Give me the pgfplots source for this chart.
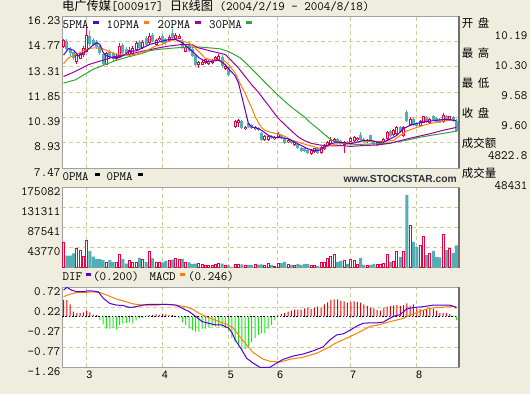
\documentclass[border=0pt]{standalone}
\usepackage{fontspec}
\usepackage{pgfplots}
\usepackage{pgfplotstable}
\pgfplotsset{compat=1.18}
\newfontfamily\cjk{Noto Sans CJK SC}
\newfontfamily\arial{Liberation Sans}
\definecolor{bgc}{RGB}{239,237,222}
\definecolor{gridc}{RGB}{204,204,153}
\definecolor{bordl}{RGB}{160,160,160}
\definecolor{bordd}{RGB}{110,110,110}
\definecolor{candred}{RGB}{232,0,64}
\definecolor{candteal}{RGB}{84,174,182}
\definecolor{ma5}{RGB}{85,0,215}
\definecolor{ma10}{RGB}{255,128,0}
\definecolor{ma20}{RGB}{160,0,160}
\definecolor{ma30}{RGB}{50,165,50}
\definecolor{hred}{RGB}{235,0,0}
\definecolor{hgreen}{RGB}{20,235,20}
\newcommand\mono{\ttfamily\fontsize{12.7}{14}\selectfont}
\newcommand\cjkt{\cjk\fontsize{12.3}{14}\selectfont}
\newcommand\cjkr{\cjk\fontsize{11.5}{14}\selectfont}

\pgfplotstableread{
i o h l c
0 14.45 14.95 14.40 14.85
4 13.60 14.05 13.50 14.00
5 13.80 14.20 13.75 14.10
6 14.00 14.50 13.90 14.40
7 14.20 15.55 14.15 15.15
13 13.45 14.20 13.40 14.10
16 13.75 14.05 13.70 13.95
17 13.90 14.70 13.85 14.55
20 14.00 14.45 13.95 14.30
21 14.05 14.50 14.00 14.40
22 14.30 14.80 14.25 14.70
24 14.40 14.85 14.35 14.75
26 14.70 15.30 14.65 15.10
28 14.60 14.95 14.55 14.85
29 14.85 15.10 14.80 15.00
32 14.80 15.15 14.75 15.05
34 14.95 15.25 14.90 15.15
35 14.95 15.20 14.90 15.10
37 14.20 14.55 14.15 14.45
41 13.40 13.65 13.25 13.60
42 13.45 13.70 13.40 13.60
43 13.55 13.80 13.50 13.75
44 13.50 13.70 13.45 13.65
45 13.55 13.75 13.50 13.70
46 13.70 13.95 13.65 13.90
47 13.70 14.05 13.65 13.95
49 13.20 13.40 13.15 13.35
52 9.85 10.25 9.80 10.20
53 10.10 10.30 9.85 10.25
55 9.70 9.90 9.65 9.85
58 9.70 9.90 9.65 9.85
61 9.07 9.35 9.02 9.30
62 9.10 9.35 9.05 9.30
64 9.12 9.32 9.08 9.27
65 9.25 9.55 9.20 9.45
68 8.95 9.15 8.90 9.10
70 8.80 9.00 8.75 8.95
75 8.30 8.55 8.25 8.50
76 8.40 8.65 8.35 8.60
78 8.35 8.75 8.30 8.70
79 8.55 8.85 8.50 8.80
80 8.75 9.05 8.70 9.00
81 8.85 9.25 8.80 9.10
82 9.00 9.20 8.95 9.15
85 8.80 9.05 8.35 9.00
87 8.95 9.25 8.90 9.20
88 9.05 9.30 9.00 9.25
89 9.08 9.28 9.03 9.22
92 8.95 9.15 8.90 9.10
95 8.80 9.00 8.75 8.95
96 8.85 9.05 8.80 9.00
97 8.95 9.20 8.90 9.15
98 9.15 9.60 9.10 9.55
100 9.35 9.70 9.30 9.65
101 9.45 9.90 9.40 9.85
103 9.30 9.90 9.25 9.85
105 9.95 10.40 9.90 10.33
108 9.90 10.25 9.85 10.20
109 10.10 10.50 10.05 10.45
111 10.10 10.35 10.05 10.30
115 10.15 10.65 10.10 10.55
117 10.25 10.50 10.20 10.45
}\up

\pgfplotstableread{
i o h l c
1 14.80 14.90 14.20 14.35
2 14.35 14.45 13.95 14.10
3 14.15 14.20 13.70 13.85
8 15.10 15.40 14.55 14.65
9 14.85 15.00 14.50 14.60
10 14.75 14.85 14.35 14.45
11 14.50 14.60 14.00 14.10
12 14.05 14.10 13.40 13.50
14 14.20 14.30 13.80 13.90
15 14.10 14.15 13.65 13.75
18 14.60 14.70 14.00 14.10
19 14.35 14.45 14.00 14.10
23 14.75 14.85 14.35 14.40
25 15.00 15.10 14.55 14.60
27 15.15 15.25 14.75 14.80
30 15.10 15.20 14.65 14.70
31 14.90 15.00 14.60 14.70
33 15.30 15.50 14.95 15.00
36 14.80 14.90 14.35 14.40
38 14.65 14.75 14.20 14.25
39 14.35 14.45 13.90 13.95
40 14.00 14.05 13.35 13.40
48 13.90 14.00 13.25 13.35
50 13.30 13.35 12.80 12.85
54 10.20 10.25 9.75 9.80
56 10.05 10.10 9.80 9.85
57 9.95 10.00 9.75 9.80
59 9.80 9.85 9.60 9.65
60 9.50 9.55 9.05 9.10
63 9.30 9.35 9.15 9.20
66 9.40 9.45 9.15 9.20
67 9.20 9.25 8.85 8.90
69 9.05 9.10 8.85 8.90
71 8.85 8.90 8.55 8.60
72 8.65 8.70 8.40 8.45
73 8.60 8.65 8.40 8.45
74 8.50 8.55 8.30 8.35
77 8.60 8.65 8.30 8.35
83 9.15 9.20 8.85 8.90
84 9.05 9.10 8.80 8.85
86 9.00 9.05 8.80 8.85
90 9.40 9.55 9.05 9.10
91 9.15 9.20 9.00 9.05
93 9.35 9.40 9.00 9.05
94 9.05 9.10 8.80 8.85
99 9.60 9.65 9.25 9.30
102 9.85 9.90 9.50 9.55
104 10.70 10.85 10.15 10.20
106 10.33 10.40 9.90 9.95
107 10.10 10.15 9.85 9.90
110 10.40 10.45 10.10 10.15
112 10.50 10.55 10.20 10.25
113 10.35 10.40 10.10 10.15
114 10.30 10.35 10.05 10.10
116 10.50 10.55 10.25 10.30
118 10.40 10.45 10.15 10.20
119 10.19 10.30 9.58 9.60
}\down

\pgfplotstableread{
i v
0 55000
4 42000
5 37000
6 24000
7 59500
13 10500
16 12000
17 28900
20 15000
21 10500
22 12000
24 18600
26 35000
28 11000
29 11000
32 14600
34 20000
35 17500
37 11000
41 8500
42 7500
43 4000
44 3600
45 4000
46 5800
47 8500
49 4000
52 5800
53 7000
55 5000
58 5500
61 4400
62 9500
64 3000
65 9500
68 7000
70 5000
75 3600
76 3600
78 11700
79 11700
80 20400
81 23300
82 29000
85 16000
87 18000
88 16000
89 7000
92 5000
95 5800
96 7000
97 9500
98 29000
100 13900
101 35700
103 35700
105 92000
108 48800
109 68500
111 30600
115 73000
117 42300
}\volup

\pgfplotstableread{
i v
1 26000
2 26000
3 31000
8 36000
9 24000
10 18600
11 18600
12 16400
14 16400
15 12000
18 18600
19 8500
23 21000
25 12000
27 20000
30 11000
31 14600
33 17000
36 19000
38 11000
39 7500
40 8500
48 8500
50 4500
54 7000
56 5500
57 5500
59 6500
60 7000
63 5800
66 9500
67 12400
69 5800
71 8000
72 5800
73 8000
74 8000
77 3600
83 12400
84 14600
86 8000
90 21000
91 5800
93 5800
94 8000
99 12400
102 23300
104 158700
106 56000
107 45000
110 27000
112 36500
113 23300
114 21900
116 38000
118 32000
119 48431
}\voldown

\pgfplotstableread{
i v
0 0.41
1 0.40
2 0.30
3 0.12
4 0.08
5 0.08
6 0.10
7 0.14
8 0.10
9 0.04
10 0.03
26 0.03
27 0.04
28 0.05
29 0.04
30 0.06
31 0.05
32 0.04
33 0.03
34 0.01
65 0.02
66 0.06
67 0.08
68 0.12
69 0.14
70 0.17
71 0.17
72 0.17
73 0.20
74 0.22
75 0.18
76 0.22
77 0.24
78 0.22
79 0.30
80 0.35
81 0.41
82 0.42
83 0.42
84 0.39
85 0.37
86 0.34
87 0.36
88 0.37
89 0.36
90 0.34
91 0.30
92 0.26
93 0.22
94 0.20
95 0.16
96 0.14
97 0.22
98 0.24
99 0.26
100 0.27
101 0.28
102 0.26
103 0.28
104 0.32
105 0.26
106 0.30
107 0.20
108 0.18
109 0.16
110 0.18
111 0.22
112 0.18
113 0.14
114 0.08
115 0.09
116 0.08
117 0.06
118 0.02
}\hpos

\pgfplotstableread{
i v
11 -0.09
12 -0.20
13 -0.30
14 -0.30
15 -0.28
16 -0.32
17 -0.22
18 -0.18
19 -0.16
20 -0.15
21 -0.18
22 -0.10
23 -0.05
24 -0.04
25 -0.01
35 -0.05
36 -0.15
37 -0.21
38 -0.30
39 -0.34
40 -0.38
41 -0.38
42 -0.30
43 -0.30
44 -0.28
45 -0.25
46 -0.25
47 -0.25
48 -0.27
49 -0.28
50 -0.35
51 -0.54
52 -0.63
53 -0.71
54 -0.83
55 -0.81
56 -0.75
57 -0.63
58 -0.54
59 -0.46
60 -0.42
61 -0.42
62 -0.30
63 -0.21
64 -0.10
119 -0.09
}\hneg

\pgfplotsset{
  panel/.style={scale only axis, width=397bp, xmin=-0.48, xmax=119.8,
    axis background/.style={fill=white},
    axis line style={draw=bordl, line width=1bp},
    major tick length=0pt, tick style={draw=none},
    grid=major, major grid style={draw=gridc, dash pattern=on 4bp off 3bp, line width=1bp},
    xtick={7,29.9,49.9,64.8,86.9,106.9}, xticklabels={},
    yticklabel style={font=\mono, anchor=north east, inner sep=0pt, xshift=-1.5bp},
    scaled y ticks=false, anchor=south west},
  wick/.style={draw=none, forget plot, error bars/.cd, y dir=plus, y explicit, error mark=none,
    error bar style={draw=#1, line width=1bp, line cap=butt}},
  body/.style={draw=none, forget plot, error bars/.cd, y dir=plus, y explicit, error mark=none,
    error bar style={draw=#1, line width=3bp, line cap=butt}},
  inner/.style={draw=none, forget plot, error bars/.cd, y dir=plus, y explicit, error mark=none,
    error bar style={draw=white, line width=1bp, line cap=butt}},
}

\begin{document}
\begin{tikzpicture}[x=1bp,y=1bp]
\useasboundingbox (0,0) rectangle (530,394);
\fill[bgc] (0,0) rectangle (530,394);

% ---------------- price panel
\begin{axis}[panel, at={(62bp,226bp)}, height=151.5bp, ymin=7.47, ymax=16.23,
  ytick={7.47,8.93,10.39,11.85,13.31,14.77,16.23},
  yticklabels={7.47,8.93,10.39,11.85,13.31,14.77,16.23}]
\addplot[wick=candteal] table[x=i, y=l, y error plus expr=\thisrow{h}-\thisrow{l}] {\down};
\addplot[wick=candred] table[x=i, y=l, y error plus expr=\thisrow{h}-\thisrow{l}] {\up};
\addplot[body=candteal] table[x=i, y=c, y error plus expr=\thisrow{o}-\thisrow{c}] {\down};
\addplot[body=candred] table[x=i, y=o, y error plus expr=\thisrow{c}-\thisrow{o}] {\up};
\addplot[inner] table[x=i, y expr=\thisrow{o}+0.058, y error plus expr=\thisrow{c}-\thisrow{o}-0.116] {\up};
\addplot[ma30, line width=1bp] table {
x y
0 12.38
3.6 12.57
9 13.18
12 13.40
15.7 13.68
19.7 13.90
23.8 14.10
26.2 14.26
29 14.33
31.8 14.38
34.3 14.42
38 14.46
41.3 14.46
44 14.42
47.4 14.36
50 14.20
52 14.00
53.4 13.85
55 13.58
57 13.20
59 12.82
61 12.42
63 12.05
65 11.68
67 11.32
69 11.00
71 10.70
73 10.42
75 10.05
77 9.75
79 9.42
81 9.10
83 8.97
85 8.88
89 8.83
93 8.86
97 8.88
100 8.95
104 9.08
108 9.25
112 9.38
116 9.50
119 9.60
};
\addplot[ma20, line width=1bp] table {
x y
0 12.76
3.6 13.06
7.6 13.45
11.6 13.68
15.7 13.93
19.7 14.03
23.8 14.22
27.8 14.38
31.8 14.52
35.9 14.61
38.9 14.61
40.8 14.42
44.9 14.22
49 14.03
50 13.85
52 13.45
53 13.25
55 12.76
57 12.28
59 11.85
61 11.35
63 10.85
65 10.35
67 9.98
69 9.62
71 9.28
73 9.05
75 8.90
77 8.82
79 8.77
82 8.75
84 8.77
87 8.72
91 8.77
95 8.80
99 8.90
103 9.10
107 9.28
111 9.45
115 9.65
119 9.82
};
\addplot[ma10, line width=1bp] table {
x y
0 13.50
1.5 13.84
3.6 14.03
5.6 14.19
7.6 14.38
9.6 14.42
11.6 14.38
13.7 14.22
15.7 14.07
17.7 14.03
19.7 13.99
21.7 14.03
23.8 14.13
25.8 14.32
27.8 14.52
29.8 14.61
31.8 14.80
33.9 14.90
35.9 14.81
37.9 14.71
39.8 14.42
42.8 13.84
44.9 13.70
46.9 13.70
48.9 13.64
50 13.45
52 12.95
53 12.55
54 12.15
55 11.80
56 11.35
57 10.95
58 10.45
59 10.10
60 9.80
61 9.65
63 9.52
65 9.44
67 9.30
69 9.10
71 8.97
73 8.85
75 8.74
77 8.64
78.5 8.60
80 8.72
82 8.84
85 8.91
89 8.97
93 9.01
97 9.01
100 9.07
102 9.36
104 9.61
106 9.75
109 9.94
111 10.04
114 10.14
117 10.23
119 10.23
};
\addplot[ma5, line width=1bp] table {
x y
0 14.00
1.5 14.38
3 14.28
4.6 13.95
6.6 14.19
8.6 14.52
10 14.71
11 14.62
12 14.15
13 13.95
15 13.84
17 13.86
18.5 14.03
20 14.22
22 14.24
24 14.42
26 14.61
28 14.71
30 14.81
32 14.90
34 14.90
36 14.71
37 14.55
39 14.22
41 13.84
43 13.64
45 13.64
47 13.70
49 13.45
50 13.20
52 12.80
53 12.38
54 11.60
55 10.82
56 10.04
57 9.84
59 9.75
60 9.65
62 9.36
64 9.22
66 9.22
68 9.16
70 8.97
72 8.77
74 8.58
76 8.48
77.5 8.50
79 8.68
81 8.87
83 8.97
85 8.93
87 8.87
89 8.97
91 9.07
93 9.07
95 8.97
97 8.97
99 9.16
101 9.36
103 9.75
105 9.94
107 10.04
109 10.14
111 10.18
113 10.23
115 10.27
117 10.27
119 10.20
};
\end{axis}

% ---------------- volume panel
\begin{axis}[panel, at={(62bp,126.5bp)}, height=80bp, ymin=0, ymax=175082,
  ytick={0,43770,87541,131311,175082},
  yticklabels={,43770,87541,131311,175082}]
\addplot[ybar, bar width=3bp, bar shift=0pt, fill=candteal, draw=none] table[x=i, y=v] {\voldown};
\addplot[ybar, bar width=2bp, bar shift=0pt, fill=white, draw=candred, line width=1bp] table[x=i, y=v] {\volup};
\end{axis}

% ---------------- MACD panel
\begin{axis}[panel, at={(62bp,26.7bp)}, height=80bp, ymin=-1.26, ymax=0.72,
  ytick={-1.26,-0.77,-0.27,0.22,0.72},
  yticklabels={-1.26,-0.77,-0.27,0.22,0.72},
  xticklabels={3,4,5,6,7,8},
  xticklabel style={font=\arial\fontsize{10.8}{12}\selectfont, anchor=north, inner sep=0pt, xshift=2.6bp, yshift=-3.5bp}]
\addplot[ybar, bar width=1bp, bar shift=0pt, fill=hred, draw=none] table[x=i, y=v] {\hpos};
\addplot[ybar, bar width=1bp, bar shift=0pt, fill=hgreen, draw=none] table[x=i, y=v] {\hneg};
\addplot[black, line width=1bp, dash pattern=on 1.6bp off 1.7bp] coordinates {(-0.48,0) (119.8,0)};
\addplot[ma10, line width=1bp] table {
x y
0 0.49
2 0.55
4 0.59
7 0.59
8.5 0.61
11 0.59
13 0.53
16 0.43
19 0.36
21 0.31
24 0.28
28 0.28
31 0.30
34 0.28
37 0.24
39 0.18
41 0.08
43 0.00
46.4 -0.11
49.4 -0.19
51.4 -0.29
53.4 -0.50
55.5 -0.71
57.5 -0.90
60.5 -1.06
62.5 -1.11
65.6 -1.13
68.6 -1.06
72.6 -1.01
76.7 -0.91
79.7 -0.79
82.7 -0.65
86.8 -0.50
89.8 -0.38
92.8 -0.25
95.9 -0.20
98.9 -0.13
102.9 -0.05
104.9 0.03
106.9 0.09
109.9 0.18
112.9 0.22
117 0.24
119 0.246
};
\addplot[ma5, line width=1bp] table {
x y
0 0.65
1 0.72
2.4 0.65
4 0.61
6.5 0.61
7 0.63
8.5 0.63
10.5 0.61
12 0.45
14 0.32
16 0.28
18 0.27
20 0.22
22 0.24
24 0.28
26 0.30
28 0.30
31 0.30
34 0.28
36 0.20
38 0.12
40 0.00
42 -0.13
44 -0.17
46 -0.21
48 -0.21
50 -0.29
51 -0.40
52 -0.58
54 -0.83
55.5 -1.04
57.5 -1.16
59.5 -1.26
62.5 -1.26
64.6 -1.15
66.6 -1.06
69.6 -0.98
72.6 -0.93
75.7 -0.85
78.7 -0.75
80.7 -0.58
82.7 -0.46
84.8 -0.43
86.8 -0.34
88.8 -0.24
90.8 -0.17
92.8 -0.16
94.9 -0.16
96.9 -0.14
97.9 -0.09
99.9 0.00
101.9 0.04
103.9 0.18
106 0.22
109 0.24
112 0.28
115 0.28
117 0.28
118.5 0.24
119 0.20
};
\end{axis}

% right/bottom darker borders
\draw[bordd, line width=1.5bp] (459.2,226) -- (459.2,378);
\draw[bordd, line width=1.5bp] (459.2,126.5) -- (459.2,206.5);
\draw[bordd, line width=1.5bp] (459.2,26.7) -- (459.2,106.7);

% title
\node[anchor=base west, inner sep=0] at (62,384) {\mono{\cjkt 电广传媒}[000917] {\cjkt 日}K{\cjkt 线图} (2004/2/19 - 2004/8/18)};

% price legend
\node[anchor=base west, inner sep=0] at (62.5,366) {\mono 5PMA};
\fill[ma5] (93,369.7) rectangle (98.5,372.7);
\node[anchor=base west, inner sep=0] at (106.5,366) {\mono 10PMA};
\fill[ma10] (143.5,369.7) rectangle (149,372.7);
\node[anchor=base west, inner sep=0] at (157.5,366) {\mono 20PMA};
\fill[ma20] (195,369.7) rectangle (200.5,372.7);
\node[anchor=base west, inner sep=0] at (209,366) {\mono 30PMA};
\fill[ma30] (246,369.7) rectangle (251.5,372.7);

% volume legend
\node[anchor=base west, inner sep=0] at (62.5,213.5) {\mono 0PMA};
\fill[black] (95,218) rectangle (99.5,221);
\node[anchor=base west, inner sep=0] at (106.5,213.5) {\mono 0PMA};
\fill[black] (137.5,218) rectangle (142.5,221);
\node[anchor=base east, inner sep=0] at (457,212) {\arial\bfseries\fontsize{10.3}{12}\selectfont\color[RGB]{50,50,60}www.STOCKSTAR.com};

% MACD legend
\node[anchor=base west, inner sep=0] at (62.5,113.3) {\mono DIF};
\fill[ma5] (86,118.3) rectangle (91,120.8);
\node[anchor=base west, inner sep=0] at (93,113.3) {\mono (0.200)};
\node[anchor=base west, inner sep=0] at (149.3,113.3) {\mono MACD};
\fill[ma10] (180,118.3) rectangle (185,120.8);
\node[anchor=base west, inner sep=0] at (188,113.3) {\mono (0.246)};

% right info
\node[anchor=base west, inner sep=0] at (461.7,367) {\cjkr 开\hspace{4.5bp}盘};
\node[anchor=base east, inner sep=0] at (527.5,354.7) {\mono 10.19};
\node[anchor=base west, inner sep=0] at (461.7,337) {\cjkr 最\hspace{4.5bp}高};
\node[anchor=base east, inner sep=0] at (527.5,324.7) {\mono 10.30};
\node[anchor=base west, inner sep=0] at (461.7,307) {\cjkr 最\hspace{4.5bp}低};
\node[anchor=base east, inner sep=0] at (527.5,294.2) {\mono 9.58};
\node[anchor=base west, inner sep=0] at (461.7,277) {\cjkr 收\hspace{4.5bp}盘};
\node[anchor=base east, inner sep=0] at (527.5,264.2) {\mono 9.60};
\node[anchor=base west, inner sep=0] at (461.7,247) {\cjkr 成交额};
\node[anchor=base east, inner sep=0] at (527.5,234.2) {\mono 4822.8};
\node[anchor=base west, inner sep=0] at (461.7,217) {\cjkr 成交量};
\node[anchor=base east, inner sep=0] at (527.5,204.5) {\mono 48431};
\end{tikzpicture}
\end{document}
